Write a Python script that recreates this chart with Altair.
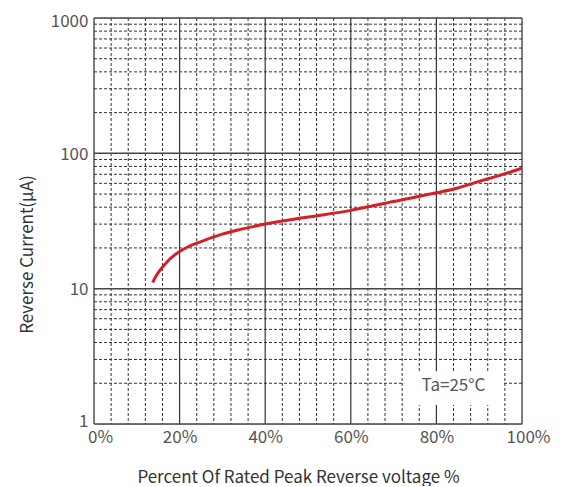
import altair as alt
import pandas as pd

# curve data (percent of rated voltage, reverse current uA)
curve_x = [13.7, 14.5, 15.5, 17, 18.5, 20, 22, 25, 30, 34, 40, 50, 60, 70, 80, 85, 90, 95, 100]
curve_y = [11.1, 12.4, 13.8, 15.7, 17.4, 18.8, 20.4, 22.3, 25.3, 27.3, 30.0, 33.8, 37.9, 44.1, 51.1, 55.5, 62.0, 69.0, 77.6]

x_major = [0, 20, 40, 60, 80, 100]
x_minor = [v for v in range(0, 101, 4) if v % 20 != 0]
y_major = [1, 10, 100, 1000]
y_minor = [m * d for d in [1, 10, 100] for m in range(2, 10)]

box = {"x": 72.5, "x2": 95.5, "y": 1.38, "y2": 2.45}
label = {"x": 84, "y": 1.9, "text": "Ta=25°C"}

xs = alt.Scale(domain=[0, 100], nice=False, zero=False)
ys = alt.Scale(type="log", domain=[1, 1000], nice=False)
FONT = "Noto Sans CJK SC"

curve = pd.DataFrame({"x": curve_x, "y": curve_y})

xaxis = alt.Axis(values=x_major, labelExpr="datum.value + '%'", grid=False, ticks=False,
                 domain=False, labelFont=FONT, labelFontSize=17, labelColor="#555",
                 labelPadding=5, labelFlush=False,
                 labelOffset={"condition": {"test": "datum.value == 0 || datum.value == 100", "value": 6}, "value": 0},
                 title="Percent Of Rated Peak Reverse voltage %",
                 titleFont=FONT, titleFontSize=17, titleFontWeight="normal",
                 titleColor="#333", titlePadding=24, titleX=204)
yaxis = alt.Axis(values=y_major, format="d", grid=False, ticks=False, domain=False,
                 labelFont=FONT, labelFontSize=17, labelColor="#555", labelPadding=6,
                 labelFlush=False,
                 labelOffset={"condition": [{"test": "datum.value == 1", "value": -3},
                                            {"test": "datum.value == 1000", "value": 3}], "value": 1},
                 title="Reverse Current(μA)", titleFont=FONT, titleFontSize=17,
                 titleFontWeight="normal", titleColor="#333", titlePadding=14, titleY=236)

vmin = alt.Chart(pd.DataFrame({"x": x_minor})).mark_rule(
    color="#333", strokeWidth=1, strokeDash=[3, 2]).encode(x=alt.X("x:Q", scale=xs, axis=xaxis))
hmin = alt.Chart(pd.DataFrame({"y": y_minor})).mark_rule(
    color="#333", strokeWidth=1, strokeDash=[3, 2]).encode(y=alt.Y("y:Q", scale=ys, axis=yaxis))
vmaj = alt.Chart(pd.DataFrame({"x": x_major})).mark_rule(
    color="#333", strokeWidth=1.2).encode(x=alt.X("x:Q", scale=xs))
hmaj = alt.Chart(pd.DataFrame({"y": y_major})).mark_rule(
    color="#444", strokeWidth=1.5).encode(y=alt.Y("y:Q", scale=ys))

boxc = alt.Chart(pd.DataFrame([box])).mark_rect(color="white").encode(
    x=alt.X("x:Q", scale=xs), x2="x2:Q", y=alt.Y("y:Q", scale=ys), y2="y2:Q")
txt = alt.Chart(pd.DataFrame([label])).mark_text(
    font=FONT, fontSize=17, color="#555").encode(
    x=alt.X("x:Q", scale=xs), y=alt.Y("y:Q", scale=ys), text="text:N")

line = alt.Chart(curve).mark_line(color="#d42027", strokeWidth=3, interpolate="monotone").encode(
    x=alt.X("x:Q", scale=xs), y=alt.Y("y:Q", scale=ys))

chart = alt.layer(vmin, hmin, vmaj, hmaj, boxc, txt, line).properties(
    width=428, height=406, autosize="none",
    padding={"left": 86, "top": 10, "right": 30, "bottom": 62},
).configure_view(stroke="#444", strokeWidth=1.5).configure(background="white")

chart.save("out.html", embed_options={"renderer": "svg", "actions": False})
